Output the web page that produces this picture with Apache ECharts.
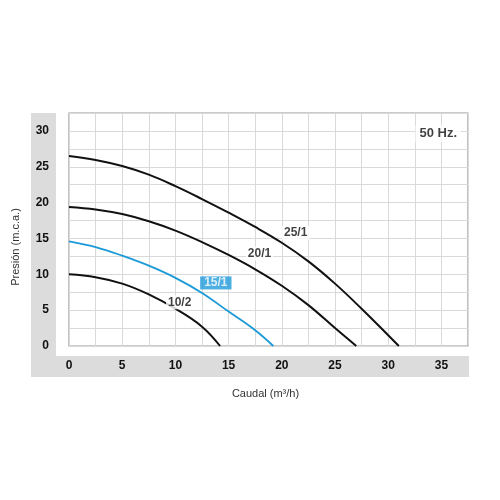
<!DOCTYPE html>
<html><head><meta charset="utf-8">
<script src="https://cdn.jsdelivr.net/npm/echarts@6/dist/echarts.min.js"></script>
<style>html,body{margin:0;padding:0;background:#fff}#c{width:500px;height:500px}</style>
</head><body><div id="c"></div>
<script>
var curve25_1 = [[0,26.5],[2.5,25.95],[5,25.1],[7.5,23.9],[10,22.3],[12.5,20.5],[15,18.6],[17.5,16.6],[20,14.4],[22.5,11.8],[25,8.7],[27.5,5.2],[30,1.5],[31.0,0]];
var curve20_1 = [[0,19.4],[2.5,19.05],[5,18.4],[7.5,17.4],[10,16.1],[12.5,14.5],[15,12.7],[17.5,10.7],[20,8.4],[22.5,5.7],[25,2.5],[27.0,0]];
var curve15_1 = [[0,14.6],[2.5,13.8],[5,12.6],[7.5,11.2],[10,9.5],[12.5,7.4],[15,4.8],[17.5,2.2],[19.2,0]];
var curve10_2 = [[0,10.0],[2.5,9.6],[5,8.7],[7.5,7.2],[10,5.2],[12.5,2.7],[14.2,0]];
var curveLabels = [
  {name:'25/1', value:[21.3,15.8]},
  {name:'20/1', value:[17.9,12.9]},
  {name:'10/2', value:[10.4,6.1]}
];
var blueLabel = [{name:'15/1', value:[13.8,8.8]}];
var freqLabel = [{name:'50 Hz.', value:[34.7,29.6]}];
var xTicks = [0,5,10,15,20,25,30,35];
var yTicks = [0,5,10,15,20,25,30];

var chart = echarts.init(document.getElementById('c'));
var F = 'Liberation Sans, Arial, Helvetica, sans-serif';
function lineSeries(d, color, w){
  return {type:'line', data:d, smooth:0.4, showSymbol:false, symbol:'none', lineStyle:{color:color,width:w}, z:3};
}
function labelSeries(d, opts){
  return {type:'scatter', data:d, symbolSize:0, z:5, silent:true,
    label:Object.assign({show:true, position:'inside', formatter:'{b}', fontFamily:F, fontWeight:'bold', fontSize:12, color:'#111', backgroundColor:'#fff', padding:[1,2]}, opts||{})};
}
chart.setOption({
  animation:false,
  backgroundColor:'#fff',
  graphic:[
    {type:'rect', z:-10, shape:{x:31,y:113,width:25,height:264}, style:{fill:'#dcdcdc'}},
    {type:'rect', z:-10, shape:{x:31,y:356,width:438,height:21}, style:{fill:'#dcdcdc'}}
  ],
  grid:{left:69, right:32, top:113, bottom:154, show:true, backgroundColor:'#fff', borderColor:'#9a9a9a', borderWidth:1.2},
  xAxis:{type:'value', min:0, max:37.5, interval:2.5,
    name:'Caudal (m³/h)', nameLocation:'middle', nameGap:42,
    nameTextStyle:{fontFamily:F, fontSize:11, color:'#333', padding:[0,6,0,0]},
    axisLine:{show:false}, axisTick:{show:false},
    axisLabel:{margin:14, fontFamily:F, fontWeight:'bold', fontSize:12, color:'#111',
      showMaxLabel:false,
      formatter:function(v){return xTicks.indexOf(v)>=0 ? String(v) : '';}},
    splitLine:{show:true, lineStyle:{color:'#d9d9d9', width:1}}
  },
  yAxis:{type:'value', min:0, max:32.5, interval:2.5,
    name:'Presión (m.c.a.)', nameLocation:'middle', nameGap:48, nameRotate:90,
    nameTextStyle:{fontFamily:F, fontSize:11, color:'#333', padding:[0,35,0,0]},
    axisLine:{show:false}, axisTick:{show:false},
    axisLabel:{margin:20, fontFamily:F, fontWeight:'bold', fontSize:12, color:'#111',
      showMaxLabel:false,
      formatter:function(v){return yTicks.indexOf(v)>=0 ? String(v) : '';}},
    splitLine:{show:true, lineStyle:{color:'#d9d9d9', width:1}}
  },
  series:[
    lineSeries(curve25_1,'#111',2),
    lineSeries(curve20_1,'#111',2),
    lineSeries(curve15_1,'#1a9ad6',1.8),
    lineSeries(curve10_2,'#111',2),
    labelSeries(curveLabels),
    labelSeries(blueLabel,{color:'#fff', backgroundColor:'#1f9ad9', padding:[1,4,0,4]}),
    labelSeries(freqLabel,{fontSize:13, padding:[2,4]})
  ]
});
</script></body></html>
